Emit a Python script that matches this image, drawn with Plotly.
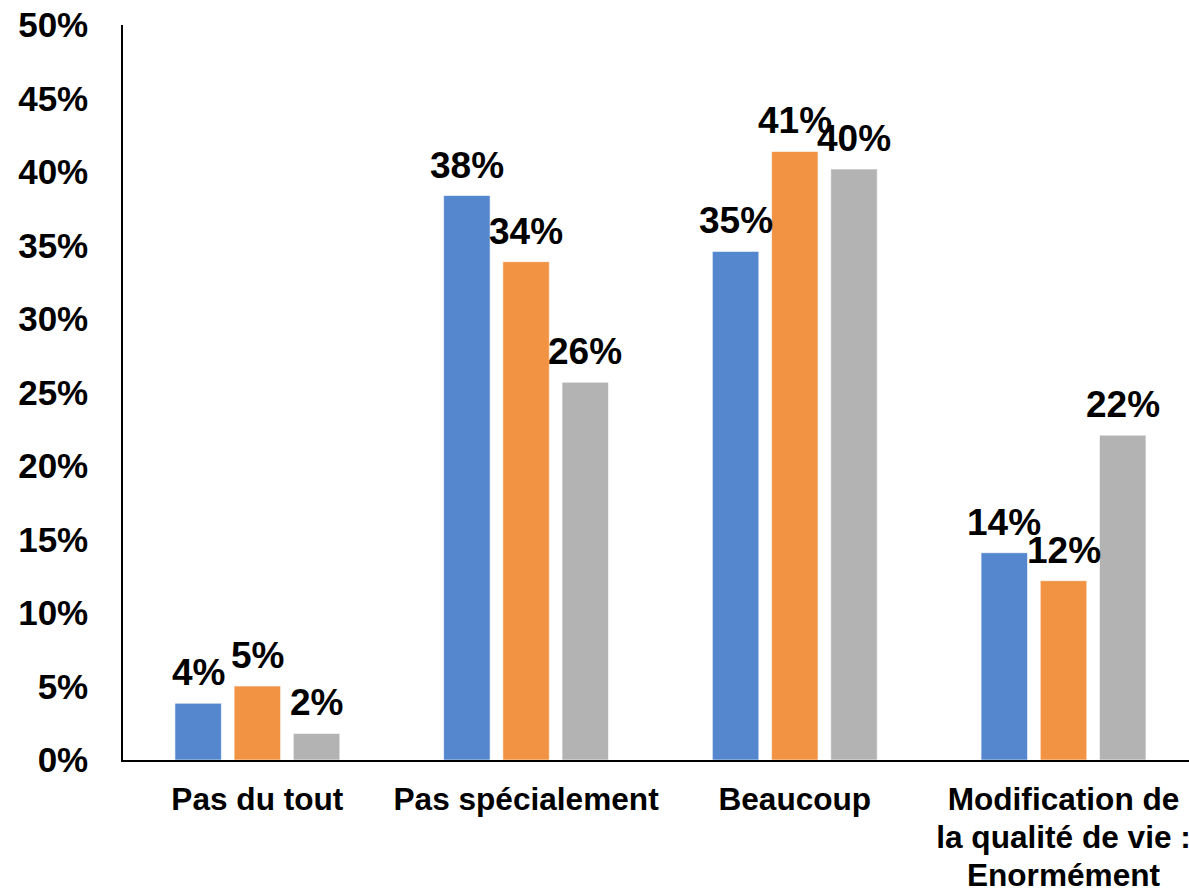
import plotly.graph_objects as go

categories = ["Pas du tout", "Pas spécialement", "Beaucoup",
              "Modification de<br>la qualité de vie :<br>Enormément"]
series_a = [0.0386, 0.384, 0.346, 0.141]
series_b = [0.0503, 0.339, 0.414, 0.122]
series_c = [0.0181, 0.257, 0.402, 0.221]
series_names = ["Série 1", "Série 2", "Série 3"]
colors = ["#5587CF", "#F19343", "#B3B3B3"]
y_ticks = [0, 0.05, 0.10, 0.15, 0.20, 0.25, 0.30, 0.35, 0.40, 0.45, 0.50]

FONT = "Liberation Sans, Arial, sans-serif"
BARGAP = 0.339
BARGROUPGAP = 0.215
CAT_SIZE = 31.6        # glyph size of category labels
CAT_LINE = 38          # line pitch of category labels

all_series = [series_a, series_b, series_c]
n_series = len(all_series)

fig = go.Figure()
for name, vals, col in zip(series_names, all_series, colors):
    fig.add_trace(go.Bar(
        x=list(range(len(categories))), y=vals, name=name,
        marker=dict(color=col, line=dict(color="rgba(255,255,255,0.6)", width=1)),
    ))

# value labels, anchored on each bar's value
slot = (1 - BARGAP) / n_series
for si, vals in enumerate(all_series):
    for ci, v in enumerate(vals):
        fig.add_annotation(
            x=ci + (si - (n_series - 1) / 2) * slot, y=v,
            xref="x", yref="y", text=f"{v:.0%}", showarrow=False,
            xanchor="center", yanchor="bottom", yshift=8,
            font=dict(family=FONT, size=37, color="black", weight="bold"),
        )

cat_text = ["<br>".join(f'<span style="font-size:{CAT_SIZE}px">{line}</span>'
                        for line in c.split("<br>")) for c in categories]

fig.update_layout(
    width=1189, height=891,
    margin=dict(l=123, r=0, t=25, b=131),
    barmode="group", bargap=BARGAP, bargroupgap=BARGROUPGAP,
    plot_bgcolor="white", paper_bgcolor="white",
    showlegend=False,
    font=dict(family=FONT, color="black"),
)
fig.update_xaxes(
    range=[-0.5, 3.467],
    tickvals=list(range(len(categories))), ticktext=cat_text,
    showline=True, linecolor="black", linewidth=1.5,
    showgrid=False, zeroline=False, ticks="",
    tickfont=dict(family=FONT, size=CAT_LINE / 1.3, color="black", weight="bold"),
    ticklabelstandoff=13, automargin=False, ticklabeloverflow="allow",
)
fig.update_yaxes(
    range=[0, 0.5], tickvals=y_ticks, tickformat=".0%",
    showline=True, linecolor="black", linewidth=1.5,
    showgrid=False, zeroline=False, ticks="",
    tickfont=dict(family=FONT, size=35, color="black", weight="bold"),
    ticklabelstandoff=26, automargin=False, ticklabeloverflow="allow",
)

fig.write_html(
    "out.html",
    config={"displayModeBar": False},
    post_script="document.body.style.margin='0';document.body.style.overflow='hidden';",
)
